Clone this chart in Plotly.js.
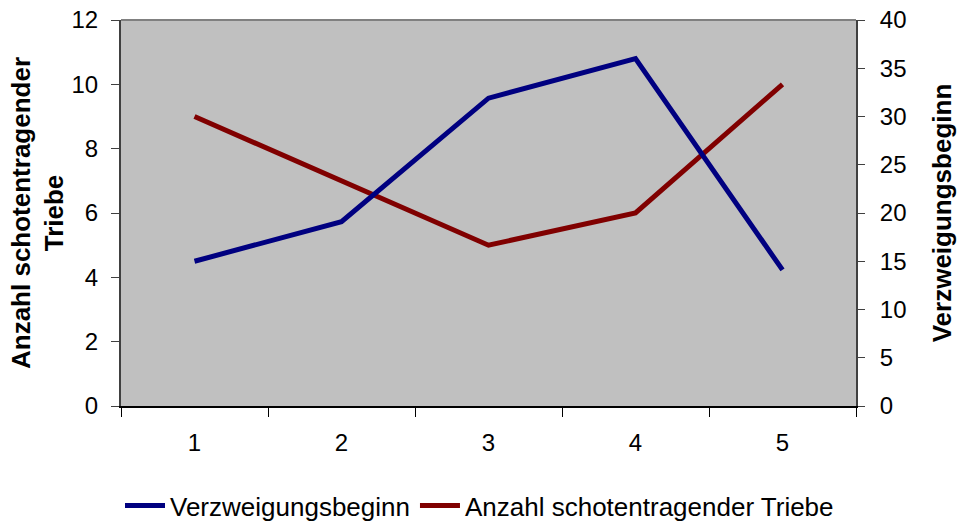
<!DOCTYPE html>
<html>
<head>
<meta charset="utf-8">
<script src="https://cdn.plot.ly/plotly-3.0.1.min.js"></script>
<style>
  html, body { margin: 0; padding: 0; background: #ffffff; }
  #chart { width: 959px; height: 524px; }
</style>
</head>
<body>
<div id="chart"></div>
<script>
// ---- data ----
const categories = ['1', '2', '3', '4', '5'];
const verzweigungsbeginn = [15, 19.1, 31.9, 36, 14.1];      // right axis
const anzahlTriebe = [9, 7, 5, 6, 10];                      // left axis
const seriesNames = ['Verzweigungsbeginn', 'Anzahl schotentragender Triebe'];
const leftTitle = 'Anzahl schotentragender<br>Triebe';
const rightTitle = 'Verzweigungsbeginn';

const FONT = 'Liberation Sans, Arial, sans-serif';

const traces = [
  {
    x: categories, y: verzweigungsbeginn, name: seriesNames[0],
    type: 'scatter', mode: 'lines', yaxis: 'y2',
    line: { color: '#000080', width: 5 }
  },
  {
    x: categories, y: anzahlTriebe, name: seriesNames[1],
    type: 'scatter', mode: 'lines', yaxis: 'y',
    line: { color: '#800000', width: 5 }
  }
];

const layout = {
  width: 959, height: 524,
  margin: { l: 121, r: 103, t: 20, b: 118 },
  paper_bgcolor: '#ffffff',
  plot_bgcolor: '#c0c0c0',
  font: { family: FONT, size: 24, color: '#000000' },
  showlegend: true,
  legend: {
    orientation: 'h', xref: 'container', x: 0.5, xanchor: 'center',
    yref: 'container', y: 0.035, yanchor: 'middle',
    font: { family: FONT, size: 26, color: '#000000' },
    itemwidth: 40, tracegroupgap: 0, bgcolor: 'rgba(0,0,0,0)'
  },
  xaxis: {
    type: 'category', range: [-0.5, 4.5],
    showgrid: false, zeroline: false,
    showline: true, linecolor: '#000000', linewidth: 2,
    ticks: 'outside', tickson: 'boundaries', ticklen: 9, tickcolor: '#000000', tickwidth: 1,
    ticklabelstandoff: 14,
    tickfont: { family: FONT, size: 24, color: '#000000' }
  },
  yaxis: {
    range: [0, 12], dtick: 2, tick0: 0,
    showgrid: false, zeroline: false,
    showline: true, linecolor: '#404040', linewidth: 2,
    ticks: 'outside', ticklen: 8, tickcolor: '#404040', tickwidth: 1,
    ticklabelstandoff: 8,
    tickfont: { family: FONT, size: 24, color: '#000000' },
    title: { text: leftTitle, font: { family: FONT, size: 26, color: '#000000', weight: 'bold' }, standoff: 0 }
  },
  yaxis2: {
    range: [0, 40], dtick: 5, tick0: 0,
    overlaying: 'y', side: 'right',
    showgrid: false, zeroline: false,
    showline: true, linecolor: '#404040', linewidth: 2,
    ticks: 'outside', ticklen: 7, tickcolor: '#404040', tickwidth: 1,
    ticklabelstandoff: 10,
    tickfont: { family: FONT, size: 24, color: '#000000' },
    title: { text: rightTitle, font: { family: FONT, size: 26, color: '#000000', weight: 'bold' }, standoff: 27 }
  },
  yaxis3: {
    range: [0, 40], dtick: 5, tick0: 0,
    overlaying: 'y', side: 'right',
    showgrid: false, zeroline: false, showline: false,
    ticks: 'inside', ticklen: 9, tickcolor: '#404040', tickwidth: 1,
    showticklabels: false
  },
  shapes: [
    { type: 'line', xref: 'paper', yref: 'paper', x0: 0, x1: 1, y0: 1, y1: 1,
      line: { color: '#808080', width: 2 } }
  ]
};

Plotly.newPlot('chart', traces, layout, { staticPlot: true, displayModeBar: false });
</script>
</body>
</html>
